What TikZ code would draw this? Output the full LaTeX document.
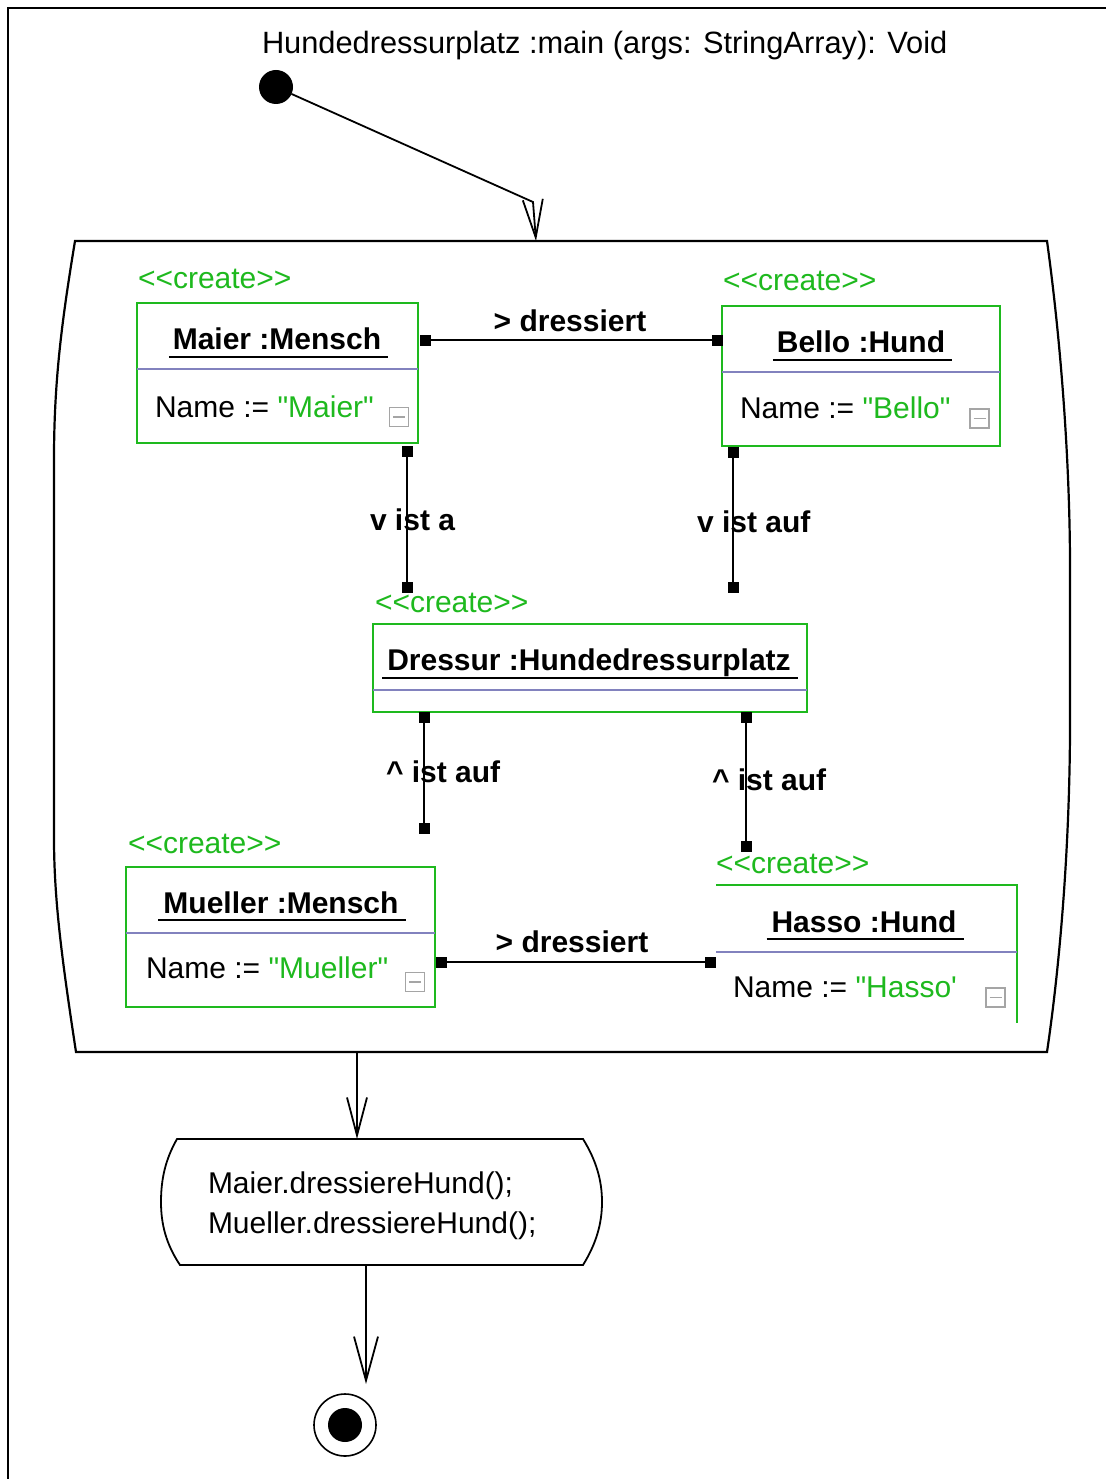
\documentclass[tikz,border=0pt]{standalone}
\usepackage{fontspec}
\setmainfont[Ligatures=TeXOff]{Liberation Sans}
\usetikzlibrary{arrows.meta}
\definecolor{objgreen}{RGB}{30,185,30}
\definecolor{sepblue}{RGB}{130,130,190}
\definecolor{icongray}{RGB}{165,165,165}
\begin{document}
\begin{tikzpicture}[x=1pt,y=-1pt,
  every node/.style={inner sep=0pt, outer sep=0pt},
  txt/.style={font=\fontsize{30}{36}\selectfont},
  btxt/.style={font=\fontsize{30}{36}\selectfont\bfseries},
  gtxt/.style={txt, text=objgreen},
  objbox/.style={draw=objgreen, line width=2pt, rectangle, anchor=north west},
  sepline/.style={draw=sepblue, line width=1.6pt},
  ulline/.style={line width=2pt},
  conn/.style={line width=2pt},
  endsq/.style={fill=black, rectangle, minimum size=11pt},
  flow/.style={line width=1.8pt, -{Straight Barb[length=38pt,width=20pt,line width=1.8pt]}},
  iconbox/.style={draw=icongray, line width=1.6pt, minimum size=19pt, rectangle},
  iconbar/.style={draw=icongray, line width=1.6pt}
]
\useasboundingbox (0,0) rectangle (1111,1479);
\fill[white] (0,0) rectangle (1111,1479);
\draw[line width=2pt] (8,1479) -- (8,8) -- (1106,8);

% title
\node[font=\fontsize{30.8}{36}\selectfont, anchor=base west] (title) at (262,54) {Hundedressurplatz :main (args: StringArray): Void};

% initial state
\node[circle, fill=black, minimum size=34pt] (init) at (276,87) {};

% frame (activity state)
\node[anchor=north west, minimum width=1016pt, minimum height=811pt] (frame) at (54,241) {};
\draw[line width=2.2pt] (75,241) -- (1047,241)
  .. controls (1062,350) and (1070,470) .. (1070,568) -- (1070,723)
  .. controls (1070,830) and (1062,950) .. (1047,1052) -- (76,1052)
  .. controls (62,960) and (54,900) .. (54,838) -- (54,459)
  .. controls (54,380) and (62,320) .. (75,241) -- cycle;

\coordinate (bend) at (533,202);
\coordinate (entry) at (536,241);
\draw[flow] (init) -- (bend) -- (entry);

% Maier
\node[gtxt, anchor=base west] (maierC) at (138,288) {<<create>>};
\node[objbox, minimum width=281pt, minimum height=140pt] (maier) at (137,303) {};
\draw[sepline] ([yshift=-66pt]maier.north west) -- ([yshift=-66pt]maier.north east);
\node[btxt, anchor=base] (maierT) at (277,349) {Maier :Mensch};
\draw[ulline] ([xshift=-4pt,yshift=-8pt]maierT.base west) -- ([xshift=7pt,yshift=-8pt]maierT.base east);
\node[txt, anchor=base west] (maierA) at (155,417) {Name := \textcolor{objgreen}{"Maier"}};
\node[iconbox] (maierI) at (399,417) {};
\draw[iconbar] ([xshift=-6pt]maierI.center) -- ([xshift=6pt]maierI.center);

% Bello
\node[gtxt, anchor=base west] (belloC) at (723,290) {<<create>>};
\node[objbox, minimum width=278pt, minimum height=140pt] (bello) at (722,306) {};
\draw[sepline] ([yshift=-66pt]bello.north west) -- ([yshift=-66pt]bello.north east);
\node[btxt, anchor=base] (belloT) at (861,352) {Bello :Hund};
\draw[ulline] ([xshift=-4pt,yshift=-8pt]belloT.base west) -- ([xshift=7pt,yshift=-8pt]belloT.base east);
\node[txt, anchor=base west] (belloA) at (740,418) {Name := \textcolor{objgreen}{"Bello"}};
\node[iconbox] (belloI) at (979.5,418.5) {};
\draw[iconbar] ([xshift=-6pt]belloI.center) -- ([xshift=6pt]belloI.center);

% Dressur
\node[gtxt, anchor=base west] (dresC) at (375,612) {<<create>>};
\node[objbox, minimum width=434pt, minimum height=88pt] (dressur) at (373,624) {};
\draw[sepline] ([yshift=-66pt]dressur.north west) -- ([yshift=-66pt]dressur.north east);
\node[btxt, anchor=base] (dresT) at (589,670) {Dressur :Hundedressurplatz};
\draw[ulline] ([xshift=-5pt,yshift=-8pt]dresT.base west) -- ([xshift=7pt,yshift=-8pt]dresT.base east);

% Mueller
\node[gtxt, anchor=base west] (muelC) at (128,853) {<<create>>};
\node[objbox, minimum width=309pt, minimum height=140pt] (mueller) at (126,867) {};
\draw[sepline] ([yshift=-66pt]mueller.north west) -- ([yshift=-66pt]mueller.north east);
\node[btxt, anchor=base] (muelT) at (281,913) {Mueller :Mensch};
\draw[ulline] ([xshift=-5pt,yshift=-7pt]muelT.base west) -- ([xshift=7pt,yshift=-7pt]muelT.base east);
\node[txt, anchor=base west] (muelA) at (146,978) {Name := \textcolor{objgreen}{"Mueller"}};
\node[iconbox] (muelI) at (415,982) {};
\draw[iconbar] ([xshift=-6pt]muelI.center) -- ([xshift=6pt]muelI.center);

% Hasso (partly visible)
\node[gtxt, anchor=base west] (hassoC) at (716,873) {<<create>>};
\node[anchor=north west, minimum width=301pt, minimum height=138pt] (hasso) at (716,885) {};
\draw[draw=objgreen, line width=2pt] (hasso.north west) -- (hasso.north east) -- (hasso.south east);
\draw[sepline] ([yshift=-67pt]hasso.north west) -- ([yshift=-67pt]hasso.north east);
\node[btxt, anchor=base] (hassoT) at (864,932) {Hasso :Hund};
\draw[ulline] ([xshift=-5pt,yshift=-7pt]hassoT.base west) -- ([xshift=7pt,yshift=-7pt]hassoT.base east);
\node[txt, anchor=base west] (hassoA) at (733,997) {Name := \textcolor{objgreen}{"Hasso'}};
\node[iconbox] (hassoI) at (995.5,997.5) {};
\draw[iconbar] ([xshift=-6pt]hassoI.center) -- ([xshift=6pt]hassoI.center);

% link end squares
\node[endsq] (d1a) at (425,340) {};
\node[endsq] (d1b) at (717,340) {};
\node[endsq] (m1a) at (407,451) {};
\node[endsq] (m1b) at (407,587) {};
\node[endsq] (b1a) at (733,452) {};
\node[endsq] (b1b) at (733,587) {};
\node[endsq] (d2a) at (424,717) {};
\node[endsq] (d2b) at (424,828) {};
\node[endsq] (d3a) at (746,717) {};
\node[endsq] (d3b) at (746,846) {};
\node[endsq] (h1a) at (441,962) {};
\node[endsq] (h1b) at (710,962) {};

\draw[conn] (d1a) -- (d1b);
\draw[conn] (m1a) -- (m1b);
\draw[conn] (b1a) -- (b1b);
\draw[conn] (d2a) -- (d2b);
\draw[conn] (d3a) -- (d3b);
\draw[conn] (h1a) -- (h1b);

% link labels
\node[btxt, anchor=base] (l1) at (570,331) {> dressiert};
\node[btxt, anchor=base west] (l2) at (370,530) {v ist a};
\node[btxt, anchor=base west] (l3) at (697,532) {v ist auf};
\node[btxt, anchor=base west] (l4) at (386,782) {\textasciicircum\ ist auf};
\node[btxt, anchor=base west] (l5) at (712,790) {\textasciicircum\ ist auf};
\node[btxt, anchor=base] (l6) at (572,952) {> dressiert};

% action state
\node[anchor=north west, minimum width=441pt, minimum height=126pt] (action) at (161,1139) {};
\draw[line width=1.8pt] (177,1139) -- (583,1139)
  .. controls (596,1160) and (602,1180) .. (602,1202)
  .. controls (602,1224) and (596,1244) .. (583,1265) -- (180,1265)
  .. controls (166,1244) and (161,1224) .. (161,1202)
  .. controls (161,1180) and (165,1160) .. (177,1139) -- cycle;
\node[txt, anchor=base west] (act1) at (208,1193) {Maier.dressiereHund();};
\node[txt, anchor=base west] (act2) at (208,1233) {Mueller.dressiereHund();};

\coordinate (fa) at (357,1052);
\coordinate (ab) at (357,1139);
\draw[flow] (fa) -- (ab);

% final state
\node[circle, draw, line width=1.6pt, minimum size=62pt] (final) at (345,1425) {};
\node[circle, fill=black, minimum size=34pt] (finalin) at (345,1425) {};
\coordinate (ac) at (366,1265);
\coordinate (fin) at (366,1384);
\draw[line width=1.8pt, -{Straight Barb[length=44pt,width=24pt,line width=1.8pt]}] (ac) -- (fin);
\end{tikzpicture}
\end{document}
